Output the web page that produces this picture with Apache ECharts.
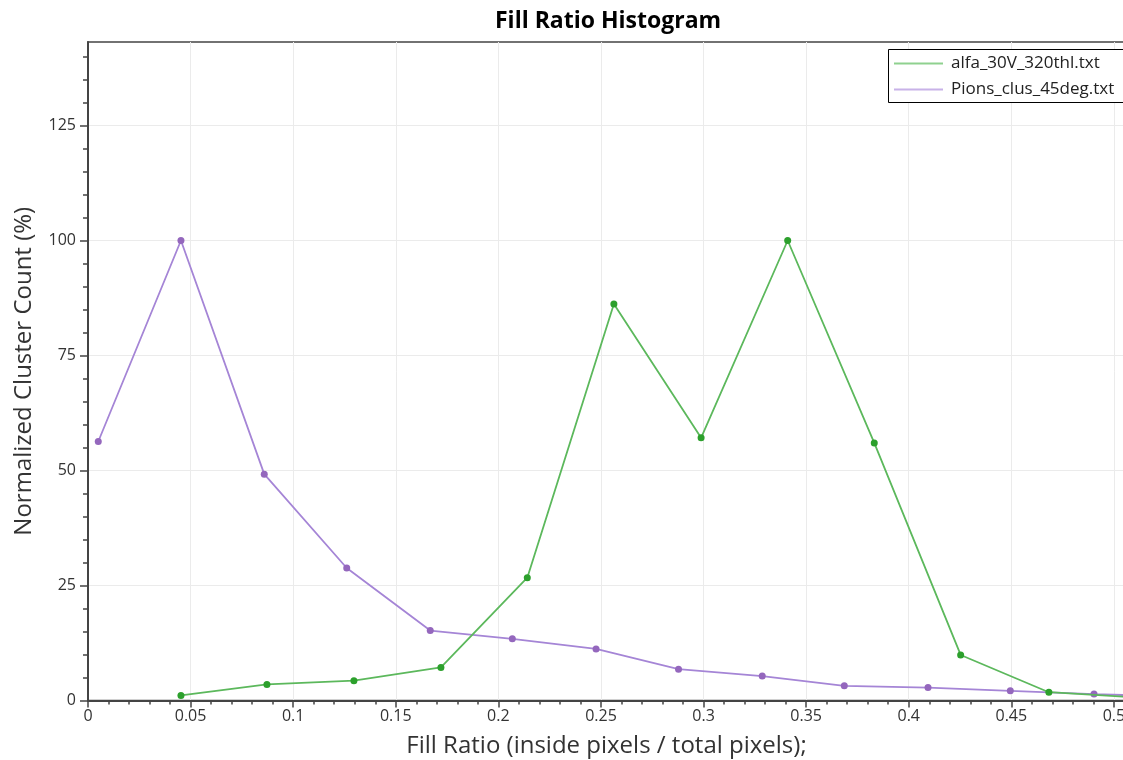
<!DOCTYPE html>
<html>
<head>
<meta charset="utf-8">
<script src="https://cdn.jsdelivr.net/npm/echarts@6/dist/echarts.min.js"></script>
<style>
html,body{margin:0;padding:0;background:#fff;}
#chart{width:1123px;height:760px;}
</style>
</head>
<body>
<div id="chart"></div>
<script>
// ---- data ----
const seriesNames = ['alfa_30V_320thl.txt', 'Pions_clus_45deg.txt'];
const alfaX = [0.0453, 0.0872, 0.1296, 0.1720, 0.2141, 0.2563, 0.2988, 0.3410, 0.3832, 0.4253, 0.4683, 0.5105];
const alfaY = [1.1, 3.5, 4.3, 7.2, 26.7, 86.2, 57.1, 100, 56.0, 9.9, 1.8, 0.7];
const pionsX = [0.0050, 0.0453, 0.0859, 0.1261, 0.1668, 0.2068, 0.2476, 0.2878, 0.3286, 0.3686, 0.4094, 0.4495, 0.4903, 0.5307];
const pionsY = [56.3, 100, 49.2, 28.8, 15.2, 13.4, 11.2, 6.8, 5.3, 3.2, 2.8, 2.1, 1.4, 0.8];
const xMajorTicks = [0, 0.05, 0.1, 0.15, 0.2, 0.25, 0.3, 0.35, 0.4, 0.45, 0.5];
const yMajorTicks = [0, 25, 50, 75, 100, 125];
const X_MIN = 0, X_MAX = 0.5054;
const Y_MIN = 0, Y_MAX = 143.15;

// minor tick positions (axis decoration only)
const xMinorTicks = [];
for (let i = 1; i <= 50; i++) { if (i % 5 !== 0) xMinorTicks.push(i / 100); }
const yMinorTicks = [];
for (let v = 5; v <= 140; v += 5) { if (v % 25 !== 0) yMinorTicks.push(v); }

const colors = {
  alfaLine: '#5cb85c', alfaMark: '#2ca02c', alfaLegend: '#8fd18f',
  pionsLine: '#a585d6', pionsMark: '#9467bd', pionsLegend: '#c8b2e8'
};

const zip = (xs, ys) => xs.map((x, i) => [x, ys[i]]);
const fontFam = '"Open Sans", "Noto Sans", sans-serif';

const chart = echarts.init(document.getElementById('chart'), null, {renderer: 'canvas'});
const axisColor = '#444';
const option = {
  backgroundColor: '#fff',
  animation: false,
  textStyle: {fontFamily: fontFam},
  title: {
    text: 'Fill Ratio Histogram',
    left: 495, top: 10, padding: 0,
    textStyle: {fontSize: 23, fontWeight: 'bold', color: '#000', fontFamily: fontFam}
  },
  graphic: [
    {
      type: 'rect', left: 888, top: 49, z: 10,
      shape: {width: 300, height: 53},
      style: {fill: '#fff', stroke: '#000', lineWidth: 1}
    }
  ],
  legend: {
    orient: 'vertical',
    left: 888, top: 49,
    padding: [6, 10, 5, 6],
    itemGap: 9,
    itemWidth: 49, itemHeight: 2,
    z: 20,
    textStyle: {fontSize: 17, color: '#222', fontFamily: fontFam, padding: [0, 0, 0, 3]},
    data: [
      {name: seriesNames[0], icon: 'rect', itemStyle: {color: colors.alfaLegend}},
      {name: seriesNames[1], icon: 'rect', itemStyle: {color: colors.pionsLegend}}
    ]
  },
  grid: {
    left: 88, right: -2, top: 42, bottom: 59.5,
    outerBoundsMode: 'none', containLabel: false,
    show: true, borderColor: axisColor, borderWidth: 1.5, backgroundColor: 'transparent'
  },
  xAxis: [
    {
      type: 'value', min: X_MIN, max: X_MAX, interval: 0.05, position: 'bottom',
      name: 'Fill Ratio (inside pixels / total pixels);',
      nameLocation: 'middle', nameGap: 34,
      nameTextStyle: {fontSize: 24, color: '#333', fontFamily: fontFam},
      axisLine: {show: true, lineStyle: {color: axisColor, width: 2}},
      axisTick: {show: true, length: 7, customValues: xMajorTicks, lineStyle: {color: axisColor, width: 1.5}},
      axisLabel: {show: true, customValues: xMajorTicks, margin: 8, fontSize: 16, color: '#333',
        formatter: v => String(Math.round(v * 100) / 100)},
      splitLine: {show: true, lineStyle: {color: '#ebebeb', width: 1}}
    },
    {
      type: 'value', min: X_MIN, max: X_MAX, interval: 0.05, position: 'bottom',
      axisLine: {show: false},
      axisTick: {show: true, length: 4, customValues: xMinorTicks, lineStyle: {color: axisColor, width: 1.5}},
      axisLabel: {show: false},
      splitLine: {show: false}
    }
  ],
  yAxis: [
    {
      type: 'value', min: Y_MIN, max: Y_MAX, interval: 25, position: 'left',
      name: 'Normalized Cluster Count (%)',
      nameLocation: 'middle', nameGap: 52, nameRotate: 90,
      nameTextStyle: {fontSize: 24, color: '#333', fontFamily: fontFam},
      axisLine: {show: true, lineStyle: {color: axisColor, width: 2}},
      axisTick: {show: true, length: 8, customValues: yMajorTicks, lineStyle: {color: axisColor, width: 1.5}},
      axisLabel: {show: true, customValues: yMajorTicks, margin: 12, fontSize: 16, color: '#333'},
      splitLine: {show: true, lineStyle: {color: '#ebebeb', width: 1}}
    },
    {
      type: 'value', min: Y_MIN, max: Y_MAX, interval: 25, position: 'left',
      axisLine: {show: false},
      axisTick: {show: true, length: 5, customValues: yMinorTicks, lineStyle: {color: axisColor, width: 1.5}},
      axisLabel: {show: false},
      splitLine: {show: false}
    }
  ],
  series: [
    {
      name: seriesNames[0], type: 'line', xAxisIndex: 0, yAxisIndex: 0,
      data: zip(alfaX, alfaY),
      symbol: 'circle', symbolSize: 7, showAllSymbol: true,
      lineStyle: {color: colors.alfaLine, width: 1.8},
      itemStyle: {color: colors.alfaMark},
      clip: true, z: 3
    },
    {
      name: seriesNames[1], type: 'line', xAxisIndex: 0, yAxisIndex: 0,
      data: zip(pionsX, pionsY),
      symbol: 'circle', symbolSize: 7, showAllSymbol: true,
      lineStyle: {color: colors.pionsLine, width: 1.8},
      itemStyle: {color: colors.pionsMark},
      clip: true, z: 2
    }
  ]
};
chart.setOption(option);
</script>
</body>
</html>
